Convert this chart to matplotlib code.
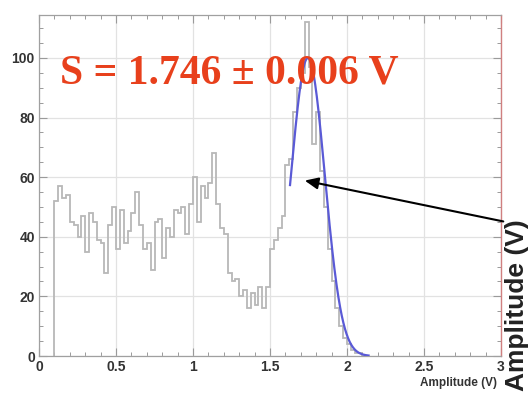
import numpy as np
import matplotlib
matplotlib.use("Agg")
import matplotlib.pyplot as plt
from matplotlib.ticker import MultipleLocator

# Histogram of pulse amplitudes: bin edges start at 0.1 V, width 0.025 V
bin_start = 0.1
bin_width = 0.025
counts = [52, 57, 53, 54, 45, 44, 40, 47, 35, 48,
          45, 39, 38, 28, 44, 50, 36, 49, 38, 42,
          48, 55, 44, 36, 38, 29, 45, 46, 33, 43,
          40, 49, 48, 50, 41, 51, 60, 45, 57, 53,
          58, 68, 51, 43, 41, 28, 25, 26, 20, 22,
          16, 21, 17, 23, 16, 23, 36, 39, 43, 47,
          64, 66, 82, 90, 95, 112, 97, 71, 82, 62,
          50, 36, 25, 16, 10, 6, 4, 2, 1, 1, 0]

# Gaussian fit of the signal peak
fit_amp = 100.0
fit_mean = 1.746
fit_err = 0.006
fit_sigma = 0.11
fit_range = (1.63, 2.14)

x_ticks = [0, 0.5, 1, 1.5, 2, 2.5, 3]
x_ticklabels = ["0", "0.5", "1", "1.5", "2", "2.5", "3"]
y_ticks = [0, 20, 40, 60, 80, 100]

W, H = 531, 405
fig = plt.figure(figsize=(W / 100, H / 100), dpi=100)
ax = fig.add_axes([39 / W, (H - 356) / H, (501 - 39) / W, (356 - 15) / H])

edges = bin_start + bin_width * np.arange(len(counts) + 1)
ax.stairs(counts, edges, baseline=0, color="#b8b8b8", lw=1.3, zorder=2)

xf = np.linspace(fit_range[0], fit_range[1], 300)
yf = fit_amp * np.exp(-0.5 * ((xf - fit_mean) / fit_sigma) ** 2)
ax.plot(xf, yf, color="#5a5ad6", lw=1.6, zorder=3)

ax.set_xlim(0, 3)
ax.set_ylim(0, 114.4)
ax.set_xticks(x_ticks)
ax.set_xticklabels(x_ticklabels)
ax.set_yticks(y_ticks)
ax.xaxis.set_minor_locator(MultipleLocator(0.1))
ax.yaxis.set_minor_locator(MultipleLocator(5))
ax.grid(True, which="major", color="#e2e2e2", lw=0.9, zorder=0)
ax.tick_params(which="both", direction="in", top=True, right=True,
               color="#9a9a9a", labelcolor="#333333")
ax.tick_params(which="major", length=6, width=0.8, pad=3)
ax.tick_params(which="minor", length=3, width=0.7)
for lab in ax.get_xticklabels() + ax.get_yticklabels():
    lab.set_fontfamily("Liberation Sans")
    lab.set_fontweight("bold")
    lab.set_fontsize(10)
for s in ["left", "bottom", "top"]:
    ax.spines[s].set_color("#a0a0a0")
    ax.spines[s].set_linewidth(0.9)
ax.spines["right"].set_color("#d08080")
ax.spines["right"].set_linewidth(1.0)

fig.text(497 / W, 1 - 383 / H, "Amplitude (V)", ha="right", va="center",
         fontsize=8.5, fontweight="bold", family="Liberation Sans",
         color="#333333")

fig.text(60 / W, 1 - 83 / H, f"S = {fit_mean:.3f} \u00b1 {fit_err:.3f} V",
         fontsize=30, fontweight="bold", family="Liberation Serif",
         color="#e8401c", ha="left", va="baseline")

fig.text(517 / W, 1 - 305 / H, "Amplitude (V)", rotation=90, ha="center",
         va="center", fontsize=19, fontweight="bold",
         family="Liberation Sans", color="#222222")

ax.annotate("", xy=(302 / W, 1 - 180 / H), xycoords="figure fraction",
            xytext=(506 / W, 1 - 222 / H), textcoords="figure fraction",
            arrowprops=dict(arrowstyle="-|>,head_length=0.8,head_width=0.35",
                            color="black", lw=1.5))

fig.savefig("out.png", dpi=100)
